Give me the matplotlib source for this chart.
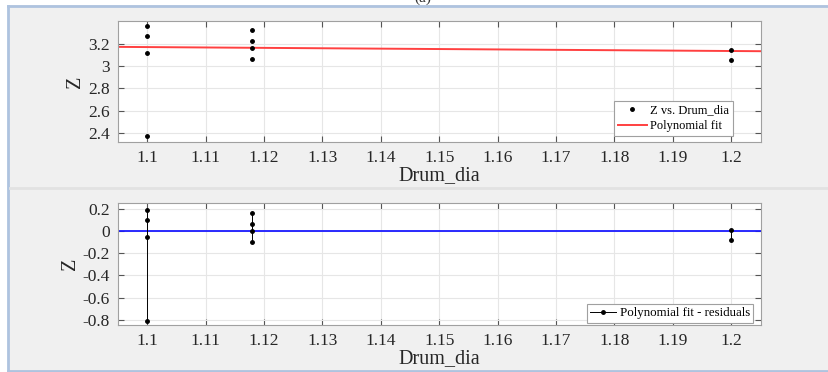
import numpy as np
import matplotlib
matplotlib.use("Agg")
import matplotlib.pyplot as plt
from matplotlib.patches import Rectangle
from matplotlib.lines import Line2D

plt.rcParams['font.family'] = ['Liberation Serif', 'DejaVu Serif']

# Data
drum_dia = [1.1, 1.1, 1.1, 1.1, 1.118, 1.118, 1.118, 1.118, 1.2, 1.2]
z_vals = [3.363, 3.275, 3.119, 2.368, 3.329, 3.230, 3.169, 3.070, 3.148, 3.055]
fit_coef = [-0.355, 3.5647]          # polynomial fit (degree 1) as shown in the figure
x_ticks = [1.1, 1.11, 1.12, 1.13, 1.14, 1.15, 1.16, 1.17, 1.18, 1.19, 1.2]
y_ticks_top = [2.4, 2.6, 2.8, 3.0, 3.2]
y_ticklabels_top = ['2.4', '2.6', '2.8', '3', '3.2']
y_ticks_bot = [-0.8, -0.6, -0.4, -0.2, 0, 0.2]
y_ticklabels_bot = ['-0.8', '-0.6', '-0.4', '-0.2', '0', '0.2']

x = np.array(drum_dia)
z = np.array(z_vals)
resid = z - np.polyval(fit_coef, x)

W, H = 829, 372
fig = plt.figure(figsize=(W/100, H/100), dpi=100, facecolor='white')

# background panel
fig.patches.append(Rectangle((8/W, 1 - 371/H), 1, (371-5)/H, transform=fig.transFigure,
                             facecolor='#f0f0f0', edgecolor='none', zorder=-10))
# borders
for xs, ys, c in [([8.5/W, 1], [1 - 5.5/H]*2, '#aec3df'),
                  ([8.5/W]*2, [1 - 5.5/H, 1 - 370.5/H], '#aec3df'),
                  ([8.5/W, 1], [1 - 370.5/H]*2, '#aec3df'),
                  ([10/W, 1], [1 - 187.5/H]*2, '#e2e2e2')]:
    fig.add_artist(Line2D(xs, ys, transform=fig.transFigure, color=c, lw=2, zorder=-5))

fig.text(423/W, 1 + 2/H, '(a)', ha='center', va='center', fontsize=11, color='#333333')

def ax_rect(l, t, r, b):
    return [l/W, 1 - b/H, (r-l)/W, (b-t)/H]

xlim = (1.095, 1.2051)

def style(ax):
    ax.set_facecolor('white')
    ax.set_xlim(*xlim)
    ax.set_xticks(x_ticks)
    ax.set_xticklabels([f'{t:g}' for t in x_ticks])
    ax.grid(True, color='#e6e6e6', lw=0.8)
    ax.set_axisbelow(True)
    for s in ax.spines.values():
        s.set_color('#a0a0a0')
        s.set_linewidth(0.8)
    ax.tick_params(direction='in', length=4, color='#555555', labelsize=12.5, labelcolor='#262626',
                   top=True, right=True, pad=6)
    ax.xaxis.label.set_color('#262626')
    ax.yaxis.label.set_color('#262626')

# Top axes
ax1 = fig.add_axes(ax_rect(118, 21, 761, 142))
style(ax1)
ax1.set_ylim(2.316, 3.41)
ax1.set_yticks(y_ticks_top)
ax1.set_yticklabels(y_ticklabels_top)
ax1.plot(x, z, linestyle='none', marker='.', color='black', markersize=5, label='Z vs. Drum_dia', zorder=3)
xf = np.linspace(xlim[0], xlim[1], 200)
ax1.plot(xf, np.polyval(fit_coef, xf), color='#ff4040', lw=1.4, label='Polynomial fit', zorder=2)
ax1.set_xlabel('Drum_dia', fontsize=14.5, labelpad=0)
ax1.set_ylabel('Z', fontsize=14.5, labelpad=2)
leg1 = ax1.legend(loc='lower right', bbox_to_anchor=(0.956, 0.05), fontsize=9.0, frameon=True,
                  fancybox=False, edgecolor='#a0a0a0', borderpad=0.3, handlelength=2.3,
                  labelspacing=0.3, handletextpad=0.25, borderaxespad=0, framealpha=1)
leg1.get_frame().set_linewidth(0.8)

# Bottom axes
ax2 = fig.add_axes(ax_rect(118, 203, 761, 325))
style(ax2)
ax2.set_ylim(-0.845, 0.251)
ax2.set_yticks(y_ticks_bot)
ax2.set_yticklabels(y_ticklabels_bot)
ax2.axhline(0, color='#1a1aff', lw=1.3, zorder=2)
ax2.vlines(x, 0, resid, color='black', lw=0.7, zorder=3)
ax2.plot(x, resid, linestyle='none', marker='.', color='black', markersize=5, zorder=4)
ax2.set_xlabel('Drum_dia', fontsize=14.5, labelpad=0)
ax2.set_ylabel('Z', fontsize=14.5, labelpad=2)
leg2 = ax2.legend([Line2D([0, 1], [0, 0], color='black', lw=0.7)], ['Polynomial fit - residuals'],
                  loc='lower right', bbox_to_anchor=(0.9876, 0.02), fontsize=9.3, frameon=True,
                  fancybox=False, edgecolor='#a0a0a0', borderpad=0.25, handlelength=2.0,
                  handletextpad=0.3, borderaxespad=0, framealpha=1)
leg2.get_frame().set_linewidth(0.8)
lh = leg2.get_lines()[0]
lh.set_marker('.')
lh.set_markersize(5)
lh.set_markevery([1])

fig.savefig('out.png', dpi=100, facecolor=fig.get_facecolor())
